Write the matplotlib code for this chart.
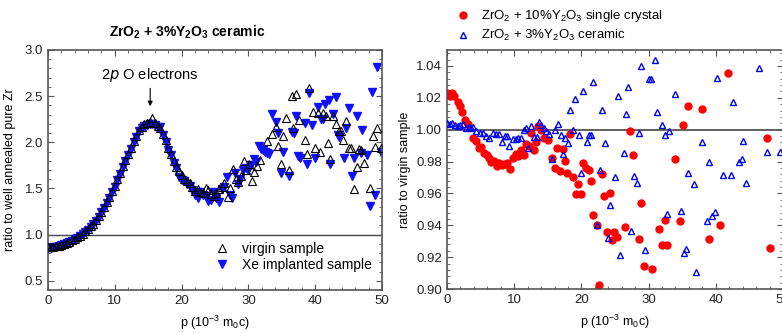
import numpy as np
import matplotlib
matplotlib.use('Agg')
import matplotlib.pyplot as plt
from matplotlib.ticker import MultipleLocator

plt.rcParams['font.family'] = ['Liberation Sans', 'DejaVu Sans']
plt.rcParams['font.size'] = 9
plt.rcParams['mathtext.default'] = 'regular'

# left panel: ratio to well annealed pure Zr
virgin_p = [0.0, 0.4, 0.8, 1.2, 1.6, 2.0, 2.4, 2.8, 3.2, 3.6, 4.0, 4.4, 4.8, 5.2, 5.6, 6.0,
            6.4, 6.8, 7.2, 7.6, 8.0, 8.4, 8.8, 9.2, 9.6, 10.0, 10.4, 10.8, 11.2, 11.6, 12.0,
            12.4, 12.8, 13.2, 13.6, 14.0, 14.4, 14.8, 15.2, 15.6, 16.0, 16.4, 16.8, 17.2,
            17.6, 18.0, 18.4, 18.8, 19.2, 19.6, 20.0, 20.4, 20.8, 21.2, 21.6, 22.0, 22.4,
            22.8, 23.2, 23.6, 24.0, 24.4, 24.8, 25.2, 25.6, 26.0, 26.4, 26.9, 27.3, 27.7,
            28.1, 28.5, 28.9, 29.4, 29.7, 30.1, 30.6, 30.9, 31.3, 31.7,
            32.8, 33.6, 34.1, 34.5, 34.9, 35.2, 35.6, 36.1, 36.5, 36.7, 37.2, 37.6, 38.4,
            38.8, 39.1, 39.6, 39.9, 40.4, 40.7, 41.2, 41.6, 41.9, 42.2, 42.7, 43.1, 43.5,
            43.8, 44.2, 44.6, 45.0, 45.3, 45.8, 46.2, 46.5, 46.9, 47.3, 48.2, 48.6, 48.9,
            49.3, 49.8]
virgin_r = [0.87, 0.87, 0.87, 0.875, 0.88, 0.89, 0.90, 0.91, 0.925, 0.94, 0.955, 0.97, 0.99,
            1.01, 1.035, 1.06, 1.09, 1.12, 1.16, 1.20, 1.25, 1.30, 1.35, 1.41, 1.47, 1.53,
            1.60, 1.67, 1.74, 1.81, 1.87, 1.94, 2.01, 2.07, 2.13, 2.17, 2.20, 2.21, 2.22,
            2.26, 2.21, 2.18, 2.15, 2.09, 2.02, 1.94, 1.87, 1.80, 1.73, 1.69, 1.65, 1.60,
            1.58, 1.56, 1.52, 1.47, 1.49, 1.46, 1.45, 1.50, 1.48, 1.44, 1.42, 1.45, 1.49,
            1.52, 1.56, 1.41, 1.50, 1.71, 1.60, 1.57, 1.63, 1.80, 1.70, 1.76, 1.58, 1.68,
            1.74, 1.81,
            2.01, 2.09, 2.17, 1.96, 1.76, 2.07, 2.26, 1.70, 2.50, 2.16, 2.52, 2.24, 2.03,
            1.87, 2.59, 2.33, 1.94, 2.32, 1.89, 2.32, 2.29, 1.99, 1.82, 2.29, 2.20, 2.12,
            2.12, 2.03, 2.23, 1.94, 1.94, 1.49, 1.73, 1.93, 1.92, 1.78, 1.51, 2.07, 1.95,
            2.15, 1.94]

xe_p = [0.0, 0.4, 0.8, 1.2, 1.6, 2.0, 2.4, 2.8, 3.2, 3.6, 4.0, 4.4, 4.8, 5.2, 5.6, 6.0,
        6.4, 6.8, 7.2, 7.6, 8.0, 8.4, 8.8, 9.2, 9.6, 10.0, 10.4, 10.8, 11.2, 11.6, 12.0,
        12.4, 12.8, 13.2, 13.6, 14.0, 14.4, 14.8, 15.2, 15.6, 16.0, 16.4, 16.8, 17.2,
        17.6, 18.0, 18.4, 18.8, 19.2, 19.6, 20.0, 20.4, 20.8, 21.2, 21.6, 22.0, 22.4,
        22.8, 23.2, 23.6, 24.0, 24.4, 24.8, 25.2, 25.6, 26.0, 26.4, 26.8, 27.2, 27.6,
        28.0, 28.4, 28.8, 29.2, 29.6, 30.0, 30.4, 30.8, 31.2, 31.6, 31.9, 32.2, 32.5,
        32.8, 33.1,
        33.6, 34.1, 34.5, 34.9, 35.2, 36.1, 36.5, 36.8, 37.2, 37.4, 37.7, 38.4, 38.8,
        39.1, 39.5, 40.0, 40.4, 40.8, 41.1, 41.5, 42.0, 42.2, 42.7, 43.1, 43.4, 43.6,
        44.3, 44.6, 45.0, 45.5, 45.8, 46.2, 46.8, 47.0, 47.7, 48.2, 48.5, 49.0, 49.3,
        49.8]
xe_r = [0.86, 0.86, 0.865, 0.87, 0.875, 0.885, 0.895, 0.905, 0.92, 0.935, 0.95, 0.965,
        0.985, 1.005, 1.03, 1.055, 1.085, 1.115, 1.15, 1.19, 1.24, 1.29, 1.34, 1.40, 1.46,
        1.52, 1.59, 1.66, 1.73, 1.80, 1.86, 1.93, 2.00, 2.06, 2.12, 2.16, 2.18, 2.19, 2.20,
        2.20, 2.19, 2.17, 2.17, 2.08, 2.00, 1.92, 1.86, 1.78, 1.72, 1.62, 1.59, 1.58, 1.55,
        1.53, 1.48, 1.43, 1.40, 1.46, 1.43, 1.42, 1.36, 1.38, 1.46, 1.40, 1.35, 1.49, 1.52,
        1.62, 1.43, 1.40, 1.67, 1.55, 1.60, 1.70, 1.72, 1.70, 1.75, 1.82, 1.79, 1.96, 1.93,
        1.92, 1.90, 1.88, 1.87,
        2.31, 2.22, 2.10, 1.67, 1.89, 1.64, 2.11, 2.10, 2.28, 1.85, 1.83, 2.21, 1.76,
        2.53, 2.19, 1.83, 2.38, 2.25, 2.25, 2.41, 2.46, 1.77, 2.31, 2.49, 2.08, 2.06,
        1.83, 2.15, 2.37, 1.63, 1.83, 2.28, 1.88, 2.13, 1.86, 1.31, 2.54, 1.43, 2.82,
        1.90]

# right panel: ratio to virgin sample
crystal_p = [0.0, 0.4, 0.8, 1.1, 1.6, 1.95, 2.3, 2.7, 3.1, 3.9, 4.3, 4.7, 5.1, 5.5, 5.9,
             6.2, 6.6, 7.0, 7.4, 7.8, 8.2, 8.6, 9.0, 9.4, 9.8, 10.2, 10.6, 11.0, 11.4, 11.8,
             12.2, 12.5, 12.9, 13.3, 13.6, 14.0, 14.4, 15.0, 15.6, 16.0, 16.3, 16.8, 17.2,
             17.5, 17.9, 18.3, 18.8, 19.2, 19.5, 20.0, 20.3, 20.7, 21.1, 21.5, 21.8, 22.3,
             22.6, 23.0, 23.4, 23.8, 24.2, 24.6, 24.9, 25.3, 26.5, 27.3, 27.7, 28.5, 28.9,
             29.25, 30.5, 31.6, 32.0, 32.4, 32.8, 33.9, 34.7, 35.1, 35.9, 37.9, 39.0, 40.6,
             41.8, 47.6, 48.0]
crystal_r = [1.0233, 1.021, 1.0227, 1.021, 1.0175, 1.0148, 1.0112, 1.006, 1.0035, 0.9945,
             0.9928, 0.9885, 0.9892, 0.9855, 0.984, 0.982, 0.980, 0.9805, 0.977, 0.979,
             0.978, 0.9785, 0.979, 0.9755, 0.9825, 0.985, 0.9835, 0.9875, 0.984, 0.991,
             0.990, 0.998, 0.987, 0.992, 1.002, 0.9995, 0.9946, 0.9935, 0.9825, 0.9762,
             0.9887, 0.9743, 0.9877, 0.9806, 0.9727, 0.9973, 0.9706, 0.9597, 0.966, 0.9597,
             0.979, 0.976, 0.9748, 0.968, 0.9466, 0.940, 0.9022, 0.972, 0.9585, 0.9357,
             0.960, 0.9305, 0.9357, 0.9324, 0.9389, 0.9994, 0.9843, 0.9314, 0.9537, 0.9143,
             0.9128, 0.9378, 0.9276, 0.9435, 0.9276, 0.9817, 0.9424, 1.003, 1.015, 1.0131,
             0.9314, 0.9403, 1.0357, 0.9948, 0.926]

ceramic_p = [0.0, 0.4, 0.8, 1.2, 1.6, 2.0, 2.4, 2.8, 3.2, 3.5, 3.9, 4.3, 4.9, 5.4, 5.8,
             6.3, 6.9, 7.3, 7.7, 8.2, 8.6, 9.0, 9.3, 9.8, 10.2, 10.6, 11.0, 11.4, 11.7,
             12.05, 12.5, 12.9, 13.4, 13.7, 14.0, 14.4, 14.8, 15.2, 15.6, 16.0, 16.5, 17.0,
             17.3, 17.6, 18.0, 18.3, 18.8, 19.1, 19.6, 20.0, 20.3, 20.8, 21.1, 21.5, 21.8,
             22.3, 22.7, 23.1, 23.5, 23.9, 24.3, 25.0, 25.4, 25.8, 26.3, 26.6, 26.9, 27.4,
             27.8, 28.2, 28.6, 28.9, 29.4, 30.0, 30.3, 30.9, 31.3, 32.0, 32.4, 32.8, 33.1,
             34.0, 34.8, 35.2, 35.5, 35.9, 36.7, 37.1, 37.9, 38.7, 39.0, 39.5, 39.9, 40.2,
             41.0, 42.2, 42.5, 43.5, 43.9, 44.1, 44.5, 46.4, 47.6, 49.6]
ceramic_r = [1.004, 1.0035, 1.004, 1.003, 1.0025, 1.003, 1.0035, 1.001, 1.0015, 1.001,
             1.0015, 0.999, 0.998, 0.998, 0.996, 0.995, 0.998, 0.9975, 0.9975, 0.992,
             0.996, 0.996, 0.990, 0.994, 0.994, 0.9945, 0.995, 0.9995, 1.001, 0.9884,
             1.002, 0.9955, 0.9955, 1.0046, 1.003, 1.001, 0.999, 0.997, 0.9815, 1.000,
             1.0035, 0.9965, 0.9845, 0.995, 0.9915, 1.0123, 0.9995, 1.019, 0.9965, 0.973,
             1.024, 0.9925, 0.9965, 0.9965, 1.030, 0.940, 0.9745, 1.0123, 0.9915, 0.932,
             0.9525, 0.970, 1.021, 0.9215, 0.9855, 1.010, 1.0265, 0.9365, 0.971, 0.9665,
             0.998, 1.040, 0.9245, 1.0317, 1.0317, 1.0436, 1.011, 1.003, 0.9965, 0.947,
             0.999, 1.0224, 0.949, 0.9227, 0.9253, 0.973, 0.966, 0.9107, 0.9925, 0.9428,
             0.9794, 0.9456, 0.9483, 1.0326, 0.9716, 0.9716, 1.0175, 0.9797, 0.9817, 0.993,
             0.9668, 1.039, 0.9862, 0.9862]

spine_col = '#555555'


def style_axes(ax):
    for s in ax.spines.values():
        s.set_color(spine_col)
        s.set_linewidth(1.2)
    ax.tick_params(which='both', direction='in', top=True, right=True, color=spine_col)
    ax.tick_params(which='major', length=4, labelsize=9.5, colors='#222222')
    ax.tick_params(which='major', color=spine_col)
    ax.tick_params(which='minor', length=2.5)


fig = plt.figure(figsize=(7.82, 3.33), dpi=100)

ax1 = fig.add_axes([48 / 782, 1 - 290 / 333, 334 / 782, 240 / 333])
ax1.axhline(1.0, color='#444444', lw=1.0, zorder=1)
ax1.plot(xe_p, xe_r, 'v', color='#1010ff', ms=5.5, mec='#1010ff', ls='none',
         label='Xe implanted sample', zorder=2)
ax1.plot(virgin_p, virgin_r, '^', mfc='none', mec='black', mew=0.8, ms=5.5, ls='none',
         label='virgin sample', zorder=3)
ax1.set_xlim(0, 50)
ax1.set_ylim(0.4, 3.0)
ax1.xaxis.set_major_locator(MultipleLocator(10))
ax1.xaxis.set_minor_locator(MultipleLocator(2))
ax1.yaxis.set_minor_locator(MultipleLocator(0.1))
ax1.set_yticks([0.5, 1.0, 1.5, 2.0, 2.5, 3.0])
ax1.set_yticklabels(['0.5', '1.0', '1.5', '2.0', '2.5', '3.0'])
style_axes(ax1)
ax1.set_xlabel('p (10$^{-3}$ m$_0$c)', fontsize=9, labelpad=5)
ax1.set_ylabel('ratio to well annealed pure Zr', fontsize=9, labelpad=6)
h, l = ax1.get_legend_handles_labels()
ax1.legend(h[::-1], l[::-1], loc='lower right', frameon=False, fontsize=10,
           handletextpad=0.7, handlelength=1.6, borderaxespad=0.3, labelspacing=0.15,
           bbox_to_anchor=(1.0, 0.035))
ax1.annotate('2$\\it{p}$ O electrons', xy=(15.3, 2.39), xytext=(15.3, 2.63),
             ha='center', va='bottom', fontsize=10.5,
             arrowprops=dict(arrowstyle='-|>', color='black', lw=0.8,
                             mutation_scale=7, shrinkA=1, shrinkB=0))
fig.text(187 / 782, 1 - 32 / 333, 'ZrO$_2$ + 3%Y$_2$O$_3$ ceramic', ha='center',
         va='center', fontsize=10, fontweight='bold')

ax2 = fig.add_axes([447 / 782, 1 - 289 / 333, 336 / 782, 239 / 333])
ax2.axhline(1.0, color='#444444', lw=1.2, zorder=1)
ax2.plot(crystal_p, crystal_r, 'o', color='#ff0000', ms=5, mec='#ff0000', ls='none',
         label='ZrO$_2$ + 10%Y$_2$O$_3$ single crystal', zorder=2)
ax2.plot(ceramic_p, ceramic_r, '^', mfc='none', mec='#0000ee', mew=1.0, ms=4, ls='none',
         label='ZrO$_2$ + 3%Y$_2$O$_3$ ceramic', zorder=3)
ax2.set_xlim(0, 50)
ax2.set_ylim(0.90, 1.05)
ax2.xaxis.set_major_locator(MultipleLocator(10))
ax2.xaxis.set_minor_locator(MultipleLocator(2))
ax2.set_yticks([0.90, 0.92, 0.94, 0.96, 0.98, 1.00, 1.02, 1.04])
ax2.set_yticklabels(['0.90', '0.92', '0.94', '0.96', '0.98', '1.00', '1.02', '1.04'])
ax2.yaxis.set_minor_locator(MultipleLocator(0.004))
style_axes(ax2)
ax2.set_xlabel('p (10$^{-3}$ m$_0$c)', fontsize=9, labelpad=5)
ax2.set_ylabel('ratio to virgin sample', fontsize=9, labelpad=4)
ax2.legend(loc='lower left', bbox_to_anchor=(-0.005, 0.995), frameon=False, fontsize=9.5,
           handletextpad=0.6, handlelength=1.5, labelspacing=0.3, borderaxespad=0.2)

fig.savefig('out.png', dpi=100)
